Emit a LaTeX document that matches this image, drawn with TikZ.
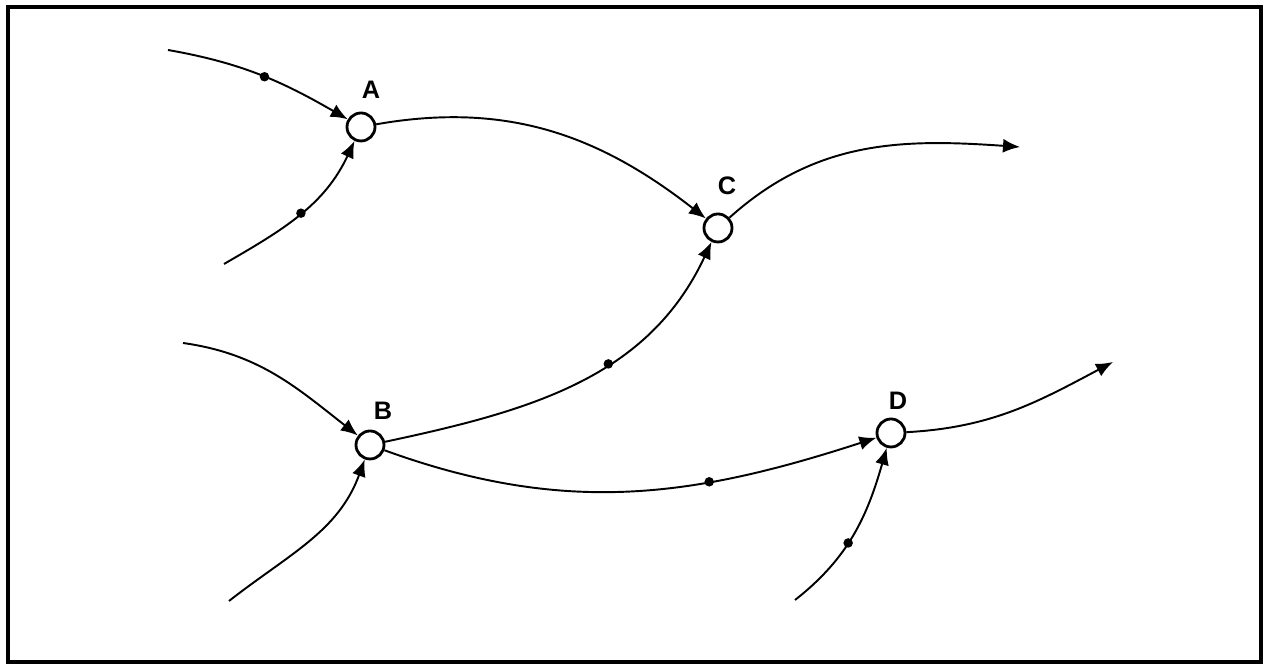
\documentclass[tikz,border=0pt]{standalone}
\usepackage{fontspec}
\setsansfont{Liberation Sans}
\usepackage{tikz}
\usetikzlibrary{positioning,arrows.meta,calc}

\begin{document}
\begin{tikzpicture}[
  place/.style={draw,circle,line width=1.6pt,minimum size=5.6mm,inner sep=0pt,fill=white},
  lbl/.style={font=\sffamily\bfseries\Large},
  dot/.style={circle,fill=black,inner sep=0pt,minimum size=1.9mm},
  ar/.style={-{Latex[length=3.4mm,width=2.8mm]},line width=1.1pt}]
\useasboundingbox (0,0) rectangle (25.3,13.32);
\draw[line width=2.2pt] (0.16,0.08) rectangle (25.22,13.18);
% places
\node[place] (A) at (7.22,10.78) {};
\node[place] (C) at (14.36,8.76) {};
\node[place] (B) at (7.40,4.42) {};
\node[place] (D) at (17.82,4.66) {};
\node[lbl] (la) at ($(A)+(0.2,0.74)$) {A};
\node[lbl] (lc) at ($(C)+(0.18,0.84)$) {C};
\node[lbl] (lb) at ($(B)+(0.26,0.68)$) {B};
\node[lbl] (ld) at ($(D)+(0.14,0.64)$) {D};
% loose ends
\coordinate (a1) at (3.36,12.32);
\coordinate (a2) at (4.48,8.04);
\coordinate (b1) at (3.66,6.46);
\coordinate (b2) at (4.58,1.30);
\coordinate (d1) at (15.90,1.32);
\coordinate (cout) at (20.40,10.38);
\coordinate (dout) at (22.26,6.08);
% arcs
\draw[ar] (a1) to[out=-10,in=150] node[dot,pos=0.52] (m1) {} (A);
\draw[ar] (a2) to[out=30,in=-115] node[dot,pos=0.5] (m2) {} (A);
\draw[ar] (A) to[out=10,in=142] (C);
\draw[ar] (C) to[out=42,in=176] (cout);
\draw[ar] (B) to[out=12,in=-115] node[dot,pos=0.59] (m3) {} (C);
\draw[ar] (b1) to[out=-8,in=142] (B);
\draw[ar] (b2) to[out=38,in=-110] (B);
\draw[ar] (B) to[out=-20,in=-162] node[dot,pos=0.67] (m4) {} (D);
\draw[ar] (D) to[out=3,in=-152] (dout);
\draw[ar] (d1) to[out=38,in=-106] node[dot,pos=0.43] (m5) {} (D);
\end{tikzpicture}
\end{document}
